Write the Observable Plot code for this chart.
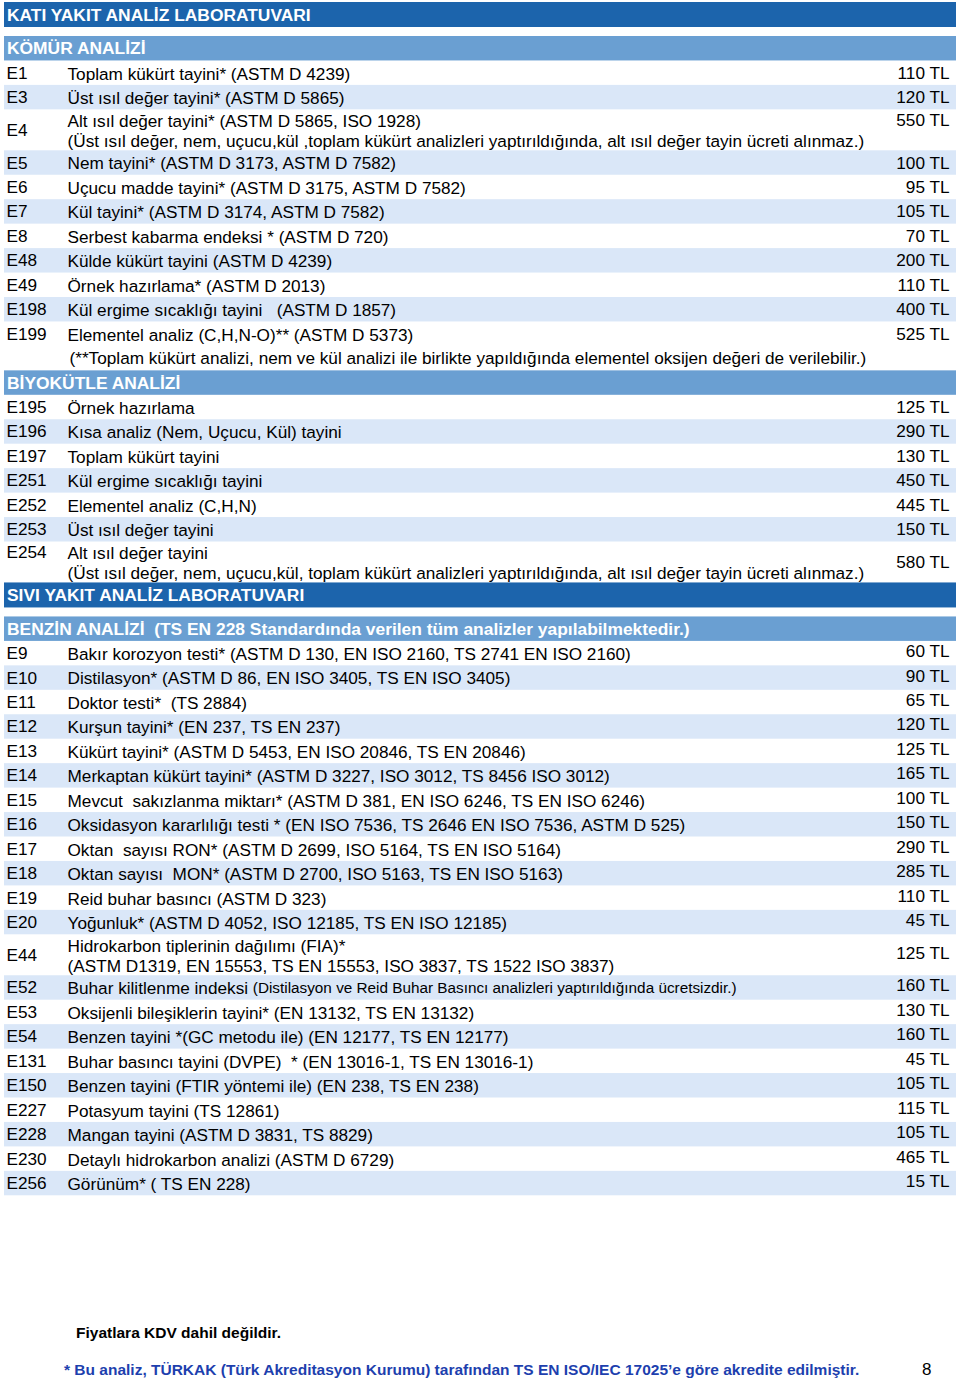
<!DOCTYPE html>
<html>
<head>
<meta charset="utf-8">
<script src="https://cdn.jsdelivr.net/npm/d3@7"></script>
<script src="https://cdn.jsdelivr.net/npm/@observablehq/plot@0.6"></script>
<style>
html, body { margin: 0; padding: 0; background: #fff; overflow: hidden; }
#chart svg text { white-space: pre; }
#foot { position: relative; height: 183px; font-family: 'Liberation Sans', Arial, Helvetica, sans-serif; }
#foot div { position: absolute; white-space: pre; }
</style>
</head>
<body>
<div id="chart"></div>
<div id="foot"></div>
<script>
// ---------- data ----------
const labTitles = ["KATI YAKIT ANALİZ LABORATUVARI", "SIVI YAKIT ANALİZ LABORATUVARI"];
const sectionTitles = ["KÖMÜR ANALİZİ", "BİYOKÜTLE ANALİZİ", "BENZİN ANALİZİ  (TS EN 228 Standardında verilen tüm analizler yapılabilmektedir.)"];

const komurCodes = ["E1", "E3", "E4", "E5", "E6", "E7", "E8", "E48", "E49", "E198", "E199"];
const komurTests = [
  "Toplam kükürt tayini* (ASTM D 4239)",
  "Üst ısıl değer tayini* (ASTM D 5865)",
  "Alt ısıl değer tayini* (ASTM D 5865, ISO 1928)\n(Üst ısıl değer, nem, uçucu,kül ,toplam kükürt analizleri yaptırıldığında, alt ısıl değer tayin ücreti alınmaz.)",
  "Nem tayini* (ASTM D 3173, ASTM D 7582)",
  "Uçucu madde tayini* (ASTM D 3175, ASTM D 7582)",
  "Kül tayini* (ASTM D 3174, ASTM D 7582)",
  "Serbest kabarma endeksi * (ASTM D 720)",
  "Külde kükürt tayini (ASTM D 4239)",
  "Örnek hazırlama* (ASTM D 2013)",
  "Kül ergime sıcaklığı tayini   (ASTM D 1857)",
  "Elementel analiz (C,H,N-O)** (ASTM D 5373)"
];
const komurPrices = [110, 120, 550, 100, 95, 105, 70, 200, 110, 400, 525];
const komurNote = "(**Toplam kükürt analizi, nem ve kül analizi ile birlikte yapıldığında elementel oksijen değeri de verilebilir.)";

const biyoCodes = ["E195", "E196", "E197", "E251", "E252", "E253", "E254"];
const biyoTests = [
  "Örnek hazırlama",
  "Kısa analiz (Nem, Uçucu, Kül) tayini",
  "Toplam kükürt tayini",
  "Kül ergime sıcaklığı tayini",
  "Elementel analiz (C,H,N)",
  "Üst ısıl değer tayini",
  "Alt ısıl değer tayini\n(Üst ısıl değer, nem, uçucu,kül, toplam kükürt analizleri yaptırıldığında, alt ısıl değer tayin ücreti alınmaz.)"
];
const biyoPrices = [125, 290, 130, 450, 445, 150, 580];

const benzinCodes = ["E9", "E10", "E11", "E12", "E13", "E14", "E15", "E16", "E17", "E18", "E19", "E20", "E44", "E52", "E53", "E54", "E131", "E150", "E227", "E228", "E230", "E256"];
const benzinTests = [
  "Bakır korozyon testi* (ASTM D 130, EN ISO 2160, TS 2741 EN ISO 2160)",
  "Distilasyon* (ASTM D 86, EN ISO 3405, TS EN ISO 3405)",
  "Doktor testi*  (TS 2884)",
  "Kurşun tayini* (EN 237, TS EN 237)",
  "Kükürt tayini* (ASTM D 5453, EN ISO 20846, TS EN 20846)",
  "Merkaptan kükürt tayini* (ASTM D 3227, ISO 3012, TS 8456 ISO 3012)",
  "Mevcut  sakızlanma miktarı* (ASTM D 381, EN ISO 6246, TS EN ISO 6246)",
  "Oksidasyon kararlılığı testi * (EN ISO 7536, TS 2646 EN ISO 7536, ASTM D 525)",
  "Oktan  sayısı RON* (ASTM D 2699, ISO 5164, TS EN ISO 5164)",
  "Oktan sayısı  MON* (ASTM D 2700, ISO 5163, TS EN ISO 5163)",
  "Reid buhar basıncı (ASTM D 323)",
  "Yoğunluk* (ASTM D 4052, ISO 12185, TS EN ISO 12185)",
  "Hidrokarbon tiplerinin dağılımı (FIA)*\n(ASTM D1319, EN 15553, TS EN 15553, ISO 3837, TS 1522 ISO 3837)",
  "Buhar kilitlenme indeksi",
  "Oksijenli bileşiklerin tayini* (EN 13132, TS EN 13132)",
  "Benzen tayini *(GC metodu ile) (EN 12177, TS EN 12177)",
  "Buhar basıncı tayini (DVPE)  * (EN 13016-1, TS EN 13016-1)",
  "Benzen tayini (FTIR yöntemi ile) (EN 238, TS EN 238)",
  "Potasyum tayini (TS 12861)",
  "Mangan tayini (ASTM D 3831, TS 8829)",
  "Detaylı hidrokarbon analizi (ASTM D 6729)",
  "Görünüm* ( TS EN 228)"
];
const benzinPrices = [60, 90, 65, 120, 125, 165, 100, 150, 290, 285, 110, 45, 125, 160, 130, 160, 45, 105, 115, 105, 465, 15];
const e52Code = "E52";
const e52Note = "(Distilasyon ve Reid Buhar Basıncı analizleri yaptırıldığında ücretsizdir.)";

const footNotes = ["Fiyatlara KDV dahil değildir.", "* Bu analiz, TÜRKAK (Türk Akreditasyon Kurumu) tarafından TS EN ISO/IEC 17025’e göre akredite edilmiştir."];
const pageNumber = "8";

// ---------- layout ----------
const DARK = "#1c64ac", MID = "#6a9fd2", LIGHT = "#dae7f8";
const FONT = "'Liberation Sans', Arial, Helvetica, sans-serif";
const FS = 17.2, HFS = 17.4, SMALL = 15.3, LINE = 20;
const ROW = 24.45, EXTRA_LINE = 16.5, LAB_H = 25, GAP = 9, TOP = 2;
const X_HEAD = 2.5, X_CODE = 2, X_TEST = 63, X_NOTE = 65, X_PRICE = 945;
const codeOnFirstLine = ["E254"], priceOnFirstLine = ["E4"];

const bands = [], heads = [], codeRows = [], testRows = [], priceRows = [], noteRows = [];
let y = TOP;
function addLab(t) { bands.push({y1: y, y2: y + LAB_H, fill: DARK}); heads.push({y: y + LAB_H / 2, text: t}); y += LAB_H + GAP; }
function addSection(t) { bands.push({y1: y, y2: y + ROW, fill: MID}); heads.push({y: y + ROW / 2, text: t}); y += ROW; }
function addRows(cs, ts, ps, priceDy) {
  cs.forEach((c, i) => {
    const lines = ts[i].split("\n").length;
    const h = ROW + (lines - 1) * EXTRA_LINE;
    if (i % 2 === 1) bands.push({y1: y, y2: y + h, fill: LIGHT});
    const cy = y + h / 2, top = cy - (lines - 1) * LINE / 2;
    codeRows.push({y: codeOnFirstLine.includes(c) ? top : cy, text: c});
    testRows.push({y: cy, text: ts[i], code: c});
    priceRows.push({y: (priceOnFirstLine.includes(c) ? top : cy) + priceDy, text: ps[i] + " TL"});
    y += h;
  });
}
function addNote(t) { noteRows.push({y: y + ROW / 2, text: t}); y += ROW; }

addLab(labTitles[0]);
addSection(sectionTitles[0]);
addRows(komurCodes, komurTests, komurPrices, 0);
addNote(komurNote);
addSection(sectionTitles[1]);
addRows(biyoCodes, biyoTests, biyoPrices, 0);
addLab(labTitles[1]);
addSection(sectionTitles[2]);
addRows(benzinCodes, benzinTests, benzinPrices, -2);

// small parenthetical after E52 text
const ctx = document.createElement("canvas").getContext("2d");
ctx.font = `${FS}px ${FONT}`;
const e52 = testRows.find(d => d.code === e52Code);
const smallRows = [{x: X_TEST + ctx.measureText(e52.text + " ").width, y: e52.y, text: e52Note}];

const H = 1200;
const chart = Plot.plot({
  width: 960, height: H,
  marginLeft: 4, marginRight: 4, marginTop: 0, marginBottom: 0,
  x: {domain: [0, 952], range: [4, 956], axis: null},
  y: {domain: [0, H], range: [0, H], axis: null},
  color: {type: "identity"},
  style: {fontFamily: FONT, background: "white", color: "black"},
  marks: [
    Plot.rect(bands, {y1: "y1", y2: "y2", fill: "fill"}),
    Plot.text(heads, {x: X_HEAD, y: "y", text: "text", textAnchor: "start", lineAnchor: "middle", fill: "white", fontWeight: "bold", fontSize: HFS, fontFamily: FONT}),
    Plot.text(codeRows, {x: X_CODE, y: "y", text: "text", textAnchor: "start", lineAnchor: "middle", fill: "black", fontSize: FS, fontFamily: FONT}),
    Plot.text(testRows, {x: X_TEST, y: "y", text: "text", textAnchor: "start", lineAnchor: "middle", lineHeight: LINE / FS, fill: "black", fontSize: FS, fontFamily: FONT}),
    Plot.text(noteRows, {x: X_NOTE, y: "y", text: "text", textAnchor: "start", lineAnchor: "middle", fill: "black", fontSize: FS, fontFamily: FONT}),
    Plot.text(smallRows, {x: "x", y: "y", text: "text", textAnchor: "start", lineAnchor: "middle", dy: (FS - SMALL) * 0.32, fill: "black", fontSize: SMALL, fontFamily: FONT}),
    Plot.text(priceRows, {x: X_PRICE, y: "y", text: "text", textAnchor: "end", lineAnchor: "middle", fill: "black", fontSize: FS, fontFamily: FONT})
  ]
});
document.getElementById("chart").append(chart);

// footer (below the SVG)
const foot = document.getElementById("foot");
const f1 = document.createElement("div");
f1.textContent = footNotes[0];
Object.assign(f1.style, {left: "76px", top: "124px", fontSize: "15.5px", lineHeight: "18px", fontWeight: "bold", color: "#000"});
const f2 = document.createElement("div");
f2.textContent = footNotes[1];
Object.assign(f2.style, {left: "64px", top: "161px", fontSize: "15.5px", lineHeight: "18px", fontWeight: "bold", color: "#1d3fae"});
const f3 = document.createElement("div");
f3.textContent = pageNumber;
Object.assign(f3.style, {left: "922px", top: "160px", fontSize: "17px", lineHeight: "20px", color: "#000"});
foot.append(f1, f2, f3);
</script>
</body>
</html>
